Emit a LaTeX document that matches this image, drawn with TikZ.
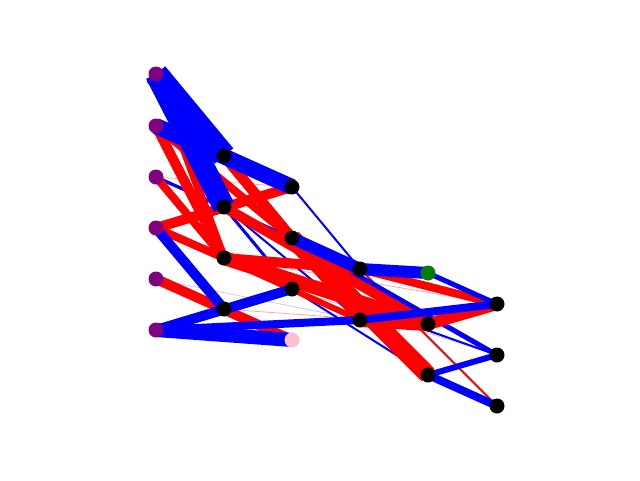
\documentclass[tikz,border=0pt]{standalone}
\begin{document}
\begin{tikzpicture}[x=1pt,y=-1pt,
  nd/.style={circle,inner sep=0pt,minimum size=15pt,fill=black,draw=none},
  bl/.style={draw={rgb,255:red,0;green,0;blue,255},line cap=butt},
  rd/.style={draw={rgb,255:red,255;green,0;blue,0},line cap=butt},
  fr/.style={draw={rgb,255:red,255;green,170;blue,170},line width=0.8pt},
  fb/.style={draw={rgb,255:red,200;green,200;blue,255},line width=0.8pt}]
\definecolor{purp}{RGB}{128,0,128}
\definecolor{grn}{RGB}{0,128,0}
\definecolor{pnk}{RGB}{255,192,203}
\useasboundingbox (0,0) rectangle (640,480);
% nodes coordinates
\coordinate (a1) at (156,74);
\coordinate (a2) at (156,126);
\coordinate (a3) at (156,177);
\coordinate (a4) at (156,228);
\coordinate (a5) at (156,279);
\coordinate (a6) at (156,330);
\coordinate (b1) at (224,156);
\coordinate (b2) at (224,207);
\coordinate (b3) at (224,258);
\coordinate (b4) at (224,309);
\coordinate (c1) at (292,187);
\coordinate (c2) at (292,238);
\coordinate (c3) at (292,289);
\coordinate (c4) at (292,340);
\coordinate (d1) at (360,269);
\coordinate (d2) at (360,320);
\coordinate (e1) at (428,273);
\coordinate (e2) at (428,324);
\coordinate (e3) at (428,375);
\coordinate (f1) at (497,304);
\coordinate (f2) at (497,355);
\coordinate (f3) at (497,406);
% faint edges
\draw[fr] (a3) -- (c1);
\draw[fb] (a5) -- (d2);
\draw[fr] (b4) -- (e2);
\draw[fr] (c3) -- (f2);
\draw[fr] (b3) -- (f1);
\draw[fb] (a4) -- (e2);
% thin edges
\draw[bl,line width=2pt] (c1) -- (d1);
\draw[bl,line width=3pt] (a3) -- (c2);
\draw[bl,line width=3pt] (a3) -- (d1);
\draw[bl,line width=3pt] (a4) -- (d2);
\draw[bl,line width=2pt] (b2) -- (d2);
\draw[bl,line width=2pt] (c3) -- (e3);
\draw[bl,line width=2pt] (b3) -- (f2);
\draw[rd,line width=2pt] (d1) -- (f3);
\draw[rd,line width=1.5pt] (c2) -- (f2);
\draw[bl,line width=5pt] (c2) -- (f2);
\draw[bl,line width=3pt] (b2) -- (c3);
% red edges
\draw[rd,line width=8pt] (a1) -- (b3);
\draw[rd,line width=10pt] (a2) -- (b3);
\draw[rd,line width=8pt] (a2) -- (c2);
\draw[rd,line width=8pt] (a3) -- (b3);
\draw[rd,line width=8pt] (a4) -- (b3);
\draw[rd,line width=6pt] (a4) -- (d2);
\draw[rd,line width=10pt] (b1) -- (c2);
\draw[rd,line width=10pt] (b1) -- (d2);
\draw[rd,line width=18pt] (c2) -- (e3);
\draw[rd,line width=14pt] (b3) -- (e2);
\draw[rd,line width=10pt] (b3) -- (d1);
\draw[rd,line width=10pt] (b2) -- (e2);
\draw[rd,line width=14pt] (d2) -- (e2);
\draw[rd,line width=8pt] (d1) -- (f1);
\draw[rd,line width=12pt] (e2) -- (f1);
\draw[rd,line width=10pt] (a5) -- (c4);
\draw[rd,line width=10pt] (a4) -- (c1);
% blue edges
\draw[bl,line width=24pt] (a1) -- (b1);
\draw[bl,line width=22pt] (a1) -- (b2);
\draw[bl,line width=16pt] (a2) -- (c1);
\draw[bl,line width=14pt] (a6) -- (c4);
\draw[bl,line width=10pt] (a6) -- (c3);
\draw[bl,line width=10pt] (a4) -- (b4);
\draw[bl,line width=8pt] (a6) -- (d2);
\draw[bl,line width=8pt] (d2) -- (f1);
\draw[bl,line width=12pt] (c2) -- (d1);
\draw[bl,line width=12pt] (d1) -- (e1);
\draw[bl,line width=5pt] (e1) -- (f1);
\draw[bl,line width=6pt] (e3) -- (f2);
\draw[bl,line width=8pt] (e3) -- (f3);
% nodes
\foreach \n in {a1,a2,a3,a4,a5,a6} \node[nd,fill=purp] (n\n) at (\n) {};
\foreach \n in {b1,b2,b3,b4,c1,c2,c3,d1,d2,e2,e3,f1,f2,f3} \node[nd] (n\n) at (\n) {};
\node[nd,fill=pnk] (nc4) at (c4) {};
\node[nd,fill=grn] (ne1) at (e1) {};
\end{tikzpicture}
\end{document}
